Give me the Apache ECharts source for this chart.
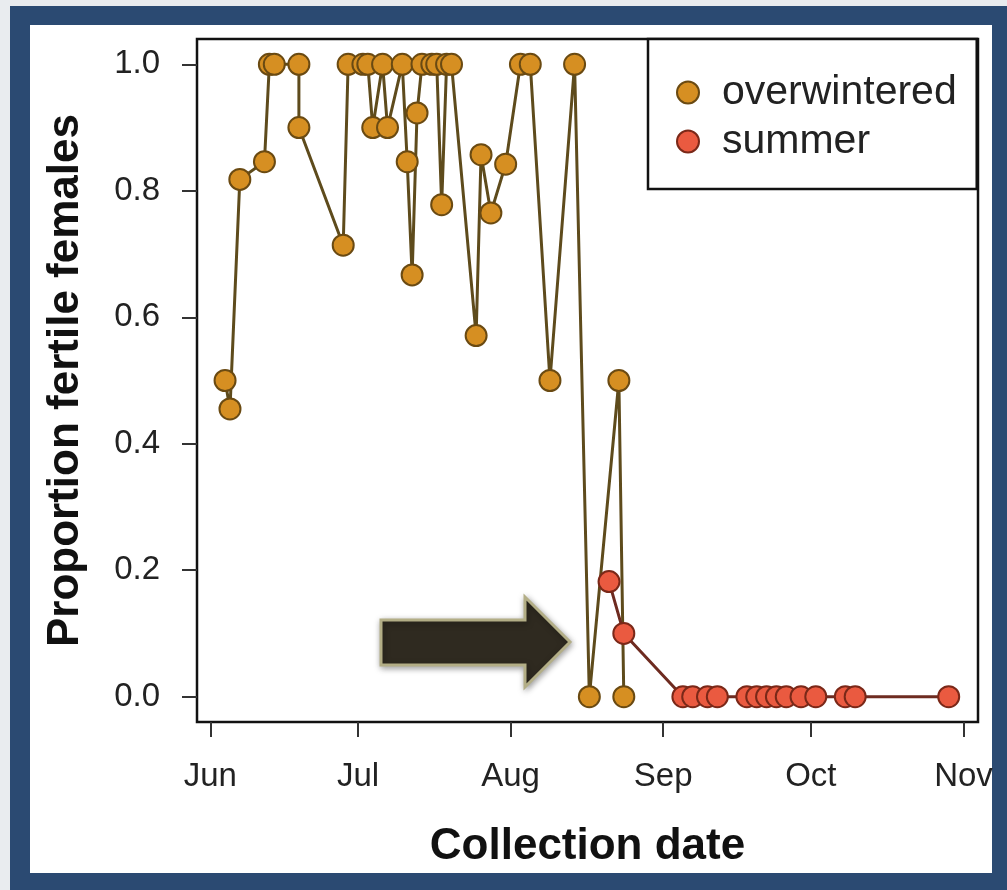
<!DOCTYPE html>
<html>
<head>
<meta charset="utf-8">
<script src="https://cdn.jsdelivr.net/npm/echarts@6/dist/echarts.min.js"></script>
<style>
  html, body { margin: 0; padding: 0; background: #ffffff; }
  #chart { width: 1007px; height: 890px; }
</style>
</head>
<body>
<div id="chart"></div>
<script>
// ---- data ----
const overwinteredDates = [
  '2013-06-04','2013-06-05','2013-06-07','2013-06-12','2013-06-13','2013-06-14',
  '2013-06-19','2013-06-19','2013-06-28','2013-06-29','2013-07-02','2013-07-03',
  '2013-07-04','2013-07-06','2013-07-07','2013-07-10','2013-07-11','2013-07-12',
  '2013-07-13','2013-07-14','2013-07-16','2013-07-17','2013-07-18','2013-07-19',
  '2013-07-20','2013-07-25','2013-07-26','2013-07-28','2013-07-31','2013-08-03',
  '2013-08-05','2013-08-09','2013-08-14','2013-08-17','2013-08-23','2013-08-24'
];
const overwinteredValues = [
  0.50, 0.455, 0.818, 0.846, 1.0, 1.0,
  1.0, 0.90, 0.714, 1.0, 1.0, 1.0,
  0.90, 1.0, 0.90, 1.0, 0.846, 0.667,
  0.923, 1.0, 1.0, 1.0, 0.778, 1.0,
  1.0, 0.571, 0.857, 0.765, 0.842, 1.0,
  1.0, 0.50, 1.0, 0.0, 0.50, 0.0
];
const summerDates = [
  '2013-08-21','2013-08-24','2013-09-05','2013-09-07','2013-09-10','2013-09-12',
  '2013-09-18','2013-09-20','2013-09-22','2013-09-24','2013-09-26','2013-09-29',
  '2013-10-02','2013-10-08','2013-10-10','2013-10-29'
];
const summerValues = [
  0.182, 0.10, 0, 0, 0, 0,
  0, 0, 0, 0, 0, 0,
  0, 0, 0, 0
];
const xTickDates = ['2013-06-01','2013-07-01','2013-08-01','2013-09-01','2013-10-01','2013-11-01'];
const xTickLabels = ['Jun','Jul','Aug','Sep','Oct','Nov'];
const yTicks = [0, 0.2, 0.4, 0.6, 0.8, 1.0];
const yTickLabels = ['0.0','0.2','0.4','0.6','0.8','1.0'];
const seriesNames = ['overwintered', 'summer'];

// ---- helpers ----
const DAY = 86400000;
function ts(s) { const p = s.split('-').map(Number); return Date.UTC(p[0], p[1] - 1, p[2]); }
const xTickTs = xTickDates.map(ts);
const xMin = ts('2013-05-29') + 0.3 * DAY;
const xMax = ts('2013-11-03') + 0.95 * DAY;
const FONT = 'Liberation Sans, Arial, Helvetica, sans-serif';

const owData = overwinteredDates.map((d, i) => [ts(d), overwinteredValues[i]]);
const suData = summerDates.map((d, i) => [ts(d), summerValues[i]]);

const chart = echarts.init(document.getElementById('chart'), null, { renderer: 'canvas' });

const option = {
  animation: false,
  backgroundColor: 'transparent',
  graphic: [
    { type: 'rect', z: -100, silent: true, shape: { x: 0, y: 0, width: 1007, height: 890 }, style: { fill: '#e9ecef' } },
    { type: 'rect', z: -99, silent: true, shape: { x: 10, y: 6, width: 997, height: 884 }, style: { fill: '#2b4a72' } },
    { type: 'rect', z: -98, silent: true, shape: { x: 30, y: 25, width: 962, height: 848 }, style: { fill: '#ffffff' } },
    {
      type: 'polygon', z: 50, silent: true,
      shape: { points: [[381, 620], [525, 620], [525, 597], [570, 642], [525, 687], [525, 665], [381, 665]] },
      style: { fill: '#2f2a20', stroke: '#b3ae86', lineWidth: 3, shadowBlur: 6, shadowColor: 'rgba(0,0,0,0.35)', shadowOffsetX: 1, shadowOffsetY: 2 }
    }
  ],
  grid: {
    left: 197, right: 29, top: 39, bottom: 168,
    show: true, borderColor: '#111', borderWidth: 2.5, backgroundColor: 'transparent'
  },
  legend: {
    orient: 'vertical',
    left: 648, top: 39,
    padding: [33, 20, 27, 28],
    itemGap: 8,
    itemWidth: 58, itemHeight: 22,
    icon: 'circle',
    borderColor: '#111', borderWidth: 2.5,
    backgroundColor: '#fff',
    textStyle: { fontFamily: FONT, fontSize: 41, color: '#222', lineHeight: 40 },
    data: seriesNames
  },
  xAxis: {
    type: 'value',
    min: xMin, max: xMax,
    name: 'Collection date',
    nameLocation: 'middle',
    nameGap: 103,
    nameTextStyle: { fontFamily: FONT, fontSize: 44, fontWeight: 'bold', color: '#111' },
    axisLine: { show: false, onZero: false },
    axisTick: { show: true, inside: false, length: 15, customValues: xTickTs, lineStyle: { color: '#333', width: 2 } },
    axisLabel: {
      customValues: xTickTs,
      margin: 38,
      fontFamily: FONT, fontSize: 33, color: '#222',
      formatter: function (v) {
        const i = xTickTs.indexOf(v);
        return i >= 0 ? xTickLabels[i] : '';
      }
    },
    splitLine: { show: false }
  },
  yAxis: {
    type: 'value',
    min: -0.04, max: 1.04,
    name: 'Proportion fertile females',
    nameLocation: 'middle',
    nameGap: 109,
    nameTextStyle: { fontFamily: FONT, fontSize: 44, fontWeight: 'bold', color: '#111' },
    axisLine: { show: false, onZero: false },
    axisTick: { show: true, inside: false, length: 15, customValues: yTicks, lineStyle: { color: '#333', width: 2 } },
    axisLabel: {
      customValues: yTicks,
      margin: 37,
      fontFamily: FONT, fontSize: 33, color: '#222',
      formatter: function (v) {
        const i = yTicks.findIndex(t => Math.abs(t - v) < 1e-9);
        return i >= 0 ? yTickLabels[i] : '';
      }
    },
    splitLine: { show: false }
  },
  series: [
    {
      name: seriesNames[0],
      type: 'line',
      data: owData,
      symbol: 'circle',
      symbolSize: 21,
      showAllSymbol: true,
      lineStyle: { color: '#5e4b1c', width: 3 },
      itemStyle: { color: '#d68f22', borderColor: '#6a4a12', borderWidth: 2 },
      z: 3
    },
    {
      name: seriesNames[1],
      type: 'line',
      data: suData,
      symbol: 'circle',
      symbolSize: 21,
      showAllSymbol: true,
      lineStyle: { color: '#6e2b20', width: 3 },
      itemStyle: { color: '#ea5a40', borderColor: '#7a2818', borderWidth: 2 },
      z: 4
    }
  ]
};
chart.setOption(option);
</script>
</body>
</html>
